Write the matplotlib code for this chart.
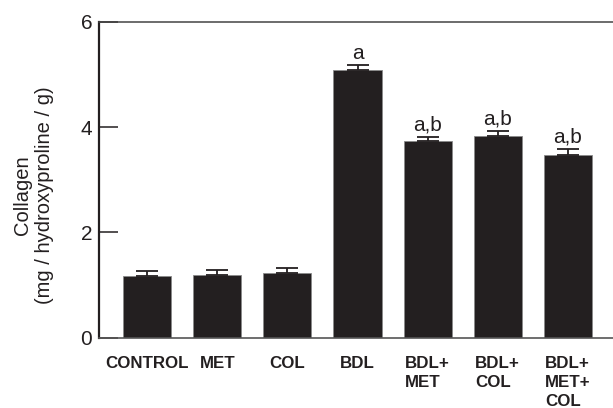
import matplotlib
matplotlib.use("Agg")
import matplotlib.pyplot as plt
import matplotlib.transforms as mtransforms
import numpy as np

plt.rcParams['font.family'] = ['Liberation Sans', 'DejaVu Sans']

# data
groups = ["CONTROL", "MET", "COL", "BDL", "BDL+\nMET", "BDL+\nCOL", "BDL+\nMET+\nCOL"]
collagen = [1.17, 1.19, 1.22, 5.08, 3.73, 3.83, 3.47]
sem = [0.10, 0.10, 0.11, 0.09, 0.09, 0.10, 0.11]
marks = ["", "", "", "a", "a,b", "a,b", "a,b"]

fig = plt.figure(figsize=(6.13, 4.08), dpi=100)
ax = fig.add_axes([0.1607, 0.1723, 0.8393, 0.7745])

x = np.arange(len(groups))
ax.bar(x, collagen, width=0.686, color="#231f20", edgecolor="#8a8a8a",
       linewidth=0.6, zorder=2)
ax.errorbar(x, collagen, yerr=[np.zeros(len(sem)), sem], fmt="none",
            ecolor="#231f20", elinewidth=1.3, capsize=8, capthick=1.3, zorder=3)

for xi, v, e, m in zip(x, collagen, sem, marks):
    if m:
        ax.annotate(m, (xi, v + e), xytext=(0, 4.5), textcoords="offset points",
                    ha="center", va="baseline", fontsize=15, color="#231f20")

ax.set_xlim(-0.695, 6.645)
ax.set_ylim(0, 6)
ax.set_yticks([0, 2, 4, 6])
ax.tick_params(axis="y", direction="in", length=14, width=1.1, pad=4.5,
               labelsize=15, colors="#231f20")
ax.set_xticks([])

# group labels below the axis, left-aligned lines
lab_tr = ax.get_xaxis_transform() + mtransforms.ScaledTranslation(0, -13 / 72, fig.dpi_scale_trans)
for xi, g in zip(x, groups):
    ax.text(xi, 0, g, transform=lab_tr, ha="center", va="top",
            multialignment="left", linespacing=1.33, fontsize=12.2,
            fontweight="bold", color="#231f20")

ax.spines["right"].set_visible(False)
ax.spines["left"].set_linewidth(1.6)
ax.spines["left"].set_color("#231f20")
ax.spines["top"].set_linewidth(1.1)
ax.spines["top"].set_color("#444444")
ax.spines["bottom"].set_linewidth(1.2)
ax.spines["bottom"].set_color("#555555")

ax.set_ylabel("Collagen\n(mg / hydroxyproline / g)", fontsize=14.5, color="#231f20")
ax.yaxis.set_label_coords(-0.0865, 0.452)

fig.savefig("out.png", dpi=100)
